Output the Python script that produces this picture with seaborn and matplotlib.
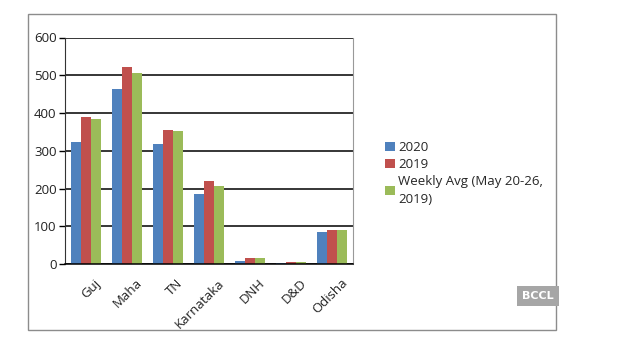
import matplotlib
matplotlib.use("Agg")
import matplotlib.pyplot as plt
import seaborn as sns
import pandas as pd
from matplotlib.patches import Rectangle, Patch
from matplotlib.transforms import ScaledTranslation

states = ["Guj", "Maha", "TN", "Karnataka", "DNH", "D&D", "Odisha"]
series_names = ["2020", "2019", "Weekly Avg (May 20-26, 2019)"]
v2020 = [322, 463, 318, 186, 8, 3, 86]
v2019 = [390, 521, 355, 219, 17, 6, 91]
vweekly = [383, 506, 352, 207, 17, 6, 89]
yticks = [0, 100, 200, 300, 400, 500, 600]
colors = ["#4F81BD", "#C0504D", "#9BBB59"]

rows = []
for name, vals in zip(series_names, [v2020, v2019, vweekly]):
    for s, v in zip(states, vals):
        rows.append({"state": s, "series": name, "value": v})
df = pd.DataFrame(rows)

sns.set_style("white")
plt.rcParams["font.family"] = ["Open Sans", "DejaVu Sans"]

fig = plt.figure(figsize=(6.3, 3.47), dpi=100)
fig.patch.set_facecolor("white")
ax = fig.add_axes([65/630, 1-264/347, (353-65)/630, (264-37.5)/347])

sns.barplot(data=df, x="state", y="value", hue="series", palette=colors,
            width=0.73, saturation=1, ax=ax, legend=False, edgecolor="none")

ax.set_ylim(0, 600)
ax.set_xlim(-0.5, 6.5)
ax.set_yticks(yticks)
ax.set_yticklabels([str(t) for t in yticks], fontsize=9.5, color="#222222")
ax.yaxis.grid(True, color="black", linewidth=1.1)
ax.set_axisbelow(True)
ax.set_xlabel("")
ax.set_ylabel("")

ax.set_xticks(range(len(states)))
ax.set_xticklabels(states, rotation=45, ha="right", va="top",
                   rotation_mode="anchor", fontsize=9.5, color="#222222")
ax.set_xticks([i - 0.5 for i in range(len(states) + 1)], minor=True)
ax.tick_params(axis="x", which="major", length=0, pad=9)
ax.tick_params(axis="x", which="minor", length=4, direction="out", color="black", width=1)
ax.tick_params(axis="y", length=4, direction="out", color="black", width=1, pad=2, left=True)
off = ScaledTranslation(6/72, 0, fig.dpi_scale_trans)
for lbl in ax.get_xticklabels():
    lbl.set_transform(lbl.get_transform() + off)

ax.spines["top"].set_visible(False)
ax.spines["right"].set_color("#999999")
ax.spines["left"].set_color("#333333")
ax.spines["bottom"].set_color("black")
ax.spines["bottom"].set_linewidth(1.1)

# outer chart frame
fig.patches.append(Rectangle((28/630, 1-330/347), (556-28)/630, (330-14)/347,
                             transform=fig.transFigure, fill=False,
                             edgecolor="#8c8c8c", linewidth=1))

handles = [Patch(facecolor=c, edgecolor="none") for c in colors]
labels = ["2020", "2019", "Weekly Avg (May 20-26,\n2019)"]
leg = fig.legend(handles, labels, loc="upper left", bbox_to_anchor=(380/630, 1-136/347),
                 frameon=False, fontsize=9.5, handlelength=0.7, handleheight=0.7,
                 handletextpad=0.3, labelspacing=0.3, borderaxespad=0)
for t in leg.get_texts():
    t.set_linespacing(1.45)

# watermark
fig.text(538/630, 1-296/347, "BCCL", ha="center", va="center", fontsize=8,
         fontweight="bold", color="white", family="DejaVu Sans",
         bbox=dict(boxstyle="square,pad=0.45", facecolor="#a6a6a6", edgecolor="none"))

fig.savefig("out.png", dpi=100, facecolor="white")
